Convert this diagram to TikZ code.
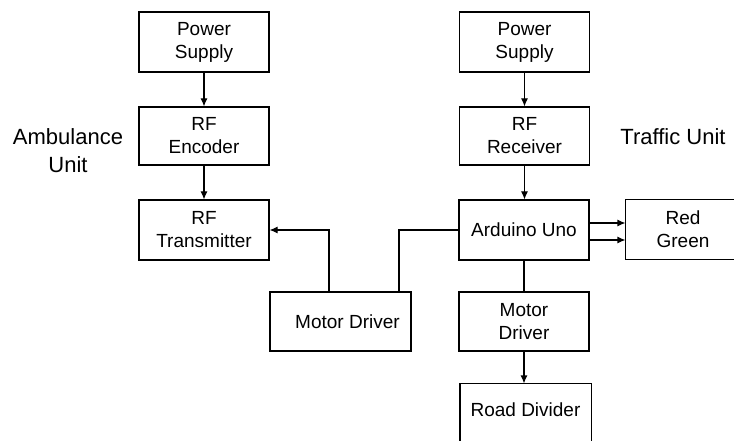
\documentclass[tikz,border=0pt]{standalone}
\usepackage{fontspec}
\setmainfont{Liberation Sans}
\usetikzlibrary{arrows.meta}
\begin{document}
\begin{tikzpicture}[x=1pt,y=-1pt,
  box/.style={draw, line width=1.1pt, minimum width=130pt, minimum height=59pt,
    align=center, font=\fontsize{19}{23}\selectfont, inner sep=0pt},
  openbox/.style={box, draw=none},
  arr/.style={-{Latex[length=8pt,width=7pt]}, line width=1.1pt},
  ln/.style={line width=1.1pt},
  lbl/.style={align=center, font=\fontsize{22}{28}\selectfont, inner sep=0pt}]
\useasboundingbox (0,0) rectangle (734,441);
\fill[white] (0,0) rectangle (734,441);
\clip (0,0) rectangle (734,441);

% Ambulance unit
\node[box, minimum height=60pt] (ps1) at (204,42) {Power\\Supply};
\node[box, minimum height=58pt] (enc) at (204,136) {RF\\Encoder};
\node[box, minimum height=60pt] (tx)  at (204,230) {RF\\Transmitter};
\node[box, minimum width=141pt] (md1) at (340.5,321.5) {\hspace*{14pt}Motor Driver};

% Traffic unit
\node[box, minimum height=60pt] (ps2) at (524.5,42) {Power\\Supply};
\node[box, minimum height=58pt] (rx)  at (524.5,136) {RF\\Receiver};
\node[box, minimum height=60pt] (ard) at (524,230) {Arduino Uno};
\node[openbox, minimum width=114pt] (rg) at (683,229.5) {Red\\Green};
\node[box] (md2) at (524,321.5) {Motor\\Driver};
\node[openbox, minimum height=52pt] (rd) at (525.5,410) {Road Divider};

% open (cut) boxes
\draw[ln] ([xshift=40pt]rg.north east) -- (rg.north west) -- (rg.south west) -- ([xshift=40pt]rg.south east);
\draw[ln] ([yshift=-40pt]rd.south west) -- (rd.north west) -- (rd.north east) -- ([yshift=-40pt]rd.south east);

% labels
\node[lbl] (amb) at (68,151) {Ambulance\\Unit};
\node[lbl] (tru) at (673,137) {Traffic Unit};

% connectors
\draw[arr] (ps1) -- (enc);
\draw[arr] (enc) -- (tx);
\draw[arr] ([xshift=-11.5pt]md1.north) |- (tx.east);
\draw[ln]  ([xshift=58.5pt]md1.north) |- (ard.west);
\draw[arr] (ps2) -- (rx);
\draw[arr] (rx) -- (ard.north -| rx.south);
\draw[arr] ([yshift=7pt]ard.east) -- ([yshift=7pt]ard.east -| rg.west);
\draw[arr] ([yshift=-10pt]ard.east) -- ([yshift=-10pt]ard.east -| rg.west);
\draw[ln]  (ard) -- (md2);
\draw[arr] (md2.south) -- (md2.south |- rd.north);
\end{tikzpicture}
\end{document}
